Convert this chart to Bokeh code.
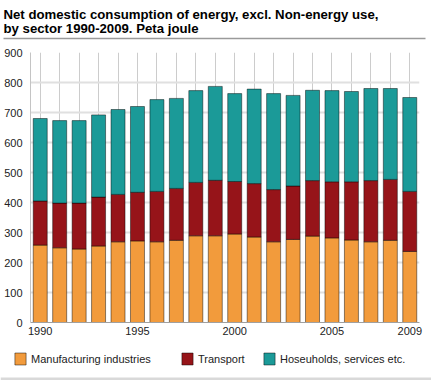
from bokeh.plotting import figure
from bokeh.layouts import column
from bokeh.models import (ColumnDataSource, Range1d, Legend, LegendItem, FixedTicker,
                          Label, Span, BoxAnnotation)
from bokeh.embed import file_html
from bokeh.resources import INLINE

# ---- data (Peta joule) ----
years = list(range(1990, 2010))
manufacturing = [258, 249, 245, 255, 269, 272, 269, 274, 289, 289,
                 295, 285, 269, 277, 288, 282, 275, 269, 274, 237]
transport = [147, 149, 153, 163, 158, 162, 168, 173, 178, 185,
             175, 178, 174, 178, 185, 187, 194, 204, 203, 200]
households = [275, 275, 275, 274, 283, 286, 306, 300, 306, 313,
              293, 315, 320, 302, 301, 304, 301, 307, 303, 313]
series_names = ["Manufacturing industries", "Transport", "Hoseuholds, services etc."]
y_ticks = [0, 100, 200, 300, 400, 500, 600, 700, 800, 900]
x_tick_labels = [1990, 1995, 2000, 2005, 2009]
title_lines = ["Net domestic consumption of energy, excl. Non-energy use,",
               "by sector 1990-2009. Peta joule"]

colors = ["#F29B3C", "#961419", "#1B9A98"]
FONT = "Liberation Sans"
TEXT_COLOR = "#222222"

W = 431
H_HEAD, H_MAIN, H_FOOT = 44, 298, 38

src = ColumnDataSource(dict(year=years, manu=manufacturing, trans=transport, house=households))
stackers = ["manu", "trans", "house"]
bar_style = dict(width=0.72, fill_color=colors, line_color="black", line_alpha=0.45,
                 line_width=1)


def no_align(f):
    if "frame_align" in f.properties():
        f.frame_align = False


def bare_figure(height):
    f = figure(width=W, height=height, x_range=Range1d(0, W), y_range=Range1d(height, 0),
               output_backend="svg", toolbar_location=None, title=None,
               x_axis_location=None, y_axis_location=None,
               min_border=0, outline_line_color=None, background_fill_color="white")
    f.grid.visible = False
    no_align(f)
    return f


# ---------------- header: title + rule ----------------
head = bare_figure(H_HEAD)
for i, line in enumerate(title_lines):
    head.add_layout(Label(x=3, y=13.5 + i * 14.5, text=line, text_font=FONT,
                          text_font_size="13.2px", text_font_style="bold",
                          text_color="#000000", text_baseline="alphabetic"))
head.add_layout(BoxAnnotation(left=3, right=425, top=37.2, bottom=38.8,
                              fill_color="#9a9a9a", fill_alpha=1, line_color=None))

# ---------------- main chart ----------------
p = figure(x_range=Range1d(years[0] - 0.5, years[-1] + 0.5), y_range=Range1d(0, 900),
           width=W, height=H_MAIN, output_backend="svg", toolbar_location=None, title=None,
           min_border_left=30, min_border_right=12, min_border_top=8, min_border_bottom=20,
           outline_line_color=None, background_fill_color="white")
no_align(p)

p.vbar_stack(stackers, x="year", source=src, **bar_style)

p.yaxis.ticker = FixedTicker(ticks=y_ticks)
p.yaxis.axis_line_color = "#c4c4c4"
p.yaxis.major_tick_line_color = None
p.yaxis.minor_tick_line_color = None
p.yaxis.major_tick_out = 0
p.yaxis.major_tick_in = 0
p.yaxis.major_label_standoff = 8
p.yaxis.major_label_text_font_size = "11px"
p.yaxis.major_label_text_font = FONT
p.yaxis.major_label_text_color = TEXT_COLOR

p.xaxis.ticker = FixedTicker(ticks=x_tick_labels)
p.xaxis.axis_line_color = "#a0a0a0"
p.xaxis.major_tick_line_color = None
p.xaxis.minor_tick_line_color = None
p.xaxis.major_tick_out = 0
p.xaxis.major_tick_in = 0
p.xaxis.major_label_standoff = 4
p.xaxis.major_label_text_font_size = "11px"
p.xaxis.major_label_text_font = FONT
p.xaxis.major_label_text_color = TEXT_COLOR

p.ygrid.ticker = FixedTicker(ticks=y_ticks)
p.ygrid.grid_line_color = "#e0e0e0"
p.ygrid.grid_line_width = 2
p.xgrid.ticker = FixedTicker(ticks=years)
p.xgrid.grid_line_color = "#cccccc"
p.xgrid.grid_line_width = 1

# ---------------- footer: legend + bottom rule ----------------
foot = bare_figure(H_FOOT)
# same glyph styles for the legend swatches (bars lie outside this strip's x range)
legend_renderers = foot.vbar_stack(stackers, x="year", source=src, **bar_style)
legend_x = [13, 180, 262]
for r, name, lx in zip(legend_renderers, series_names, legend_x):
    foot.add_layout(Legend(items=[LegendItem(label=name, renderers=[r])],
                           location=(lx, 14), orientation="horizontal",
                           padding=0, margin=0, spacing=0,
                           glyph_width=14, glyph_height=15, label_standoff=4,
                           label_height=15, label_width=10,
                           label_text_font=FONT, label_text_font_size="11px",
                           label_text_color=TEXT_COLOR, border_line_color=None,
                           background_fill_alpha=0))
foot.add_layout(Span(location=36.5, dimension="width", line_color="#d9d9d9", line_width=3))

layout = column(head, p, foot, spacing=0)
open("out.html", "w").write(file_html(layout, INLINE))
